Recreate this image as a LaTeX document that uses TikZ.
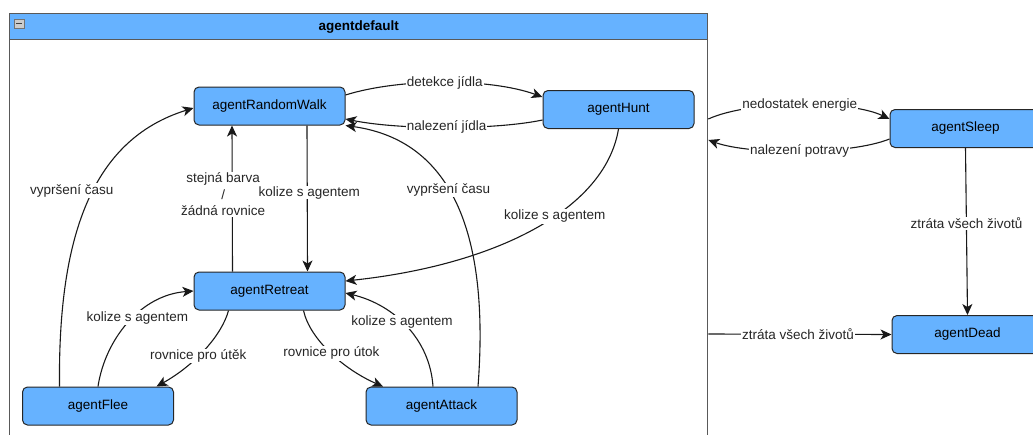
\documentclass[tikz,border=0pt]{standalone}
\usepackage{fontspec}
\setmainfont{Liberation Sans}
\usetikzlibrary{arrows.meta, positioning}
\definecolor{stateblue}{RGB}{102,178,255}

\begin{document}
\begin{tikzpicture}[x=1pt, y=-1pt, >={Stealth[length=11pt, width=10pt, inset=3pt]},
    font=\fontsize{13.5}{16.5}\selectfont,
    state/.style={draw=black!85, line width=1pt, fill=stateblue, rounded corners=5pt, minimum width=151pt, minimum height=38pt, inner sep=0pt},
    lbl/.style={fill=white, inner sep=1pt, text=black!85},
    edge/.style={->, line width=1.1pt, black!90}]

\useasboundingbox (0,0) rectangle (1033,434);
\clip (0,0) rectangle (1033,434);

% container
\node[draw=black!65, line width=1.3pt, minimum width=698pt, minimum height=460pt, anchor=north west, inner sep=0pt] (default) at (9,13) {};
\node[draw=black!65, line width=1.3pt, fill=stateblue, minimum width=698pt, minimum height=26pt, anchor=north west, inner sep=0pt, font=\fontsize{13.5}{16}\selectfont\bfseries] (default-title) at (default.north west) {agentdefault};
\node[draw=black!55, fill=black!20, minimum width=10pt, minimum height=9pt, inner sep=0pt, right=5pt of default-title.west, yshift=3pt] (default-min) {};
\draw[line width=1.5pt, black!75] ([xshift=2pt]default-min.west) -- ([xshift=-2pt]default-min.east);

% states
\node[state] (random-walk) at (269.5,106) {agentRandomWalk};
\node[state, right=197pt of random-walk, yshift=-3.5pt] (hunt) {agentHunt};
\node[state, below=146pt of random-walk] (retreat) {agentRetreat};
\node[state, below left=76pt and 19.5pt of retreat] (flee) {agentFlee};
\node[state, below right=76pt and 20pt of retreat] (attack) {agentAttack};

\node[state] (sleep) at (965.5,128.5) {agentSleep};
\node[state, below=167pt of sleep, xshift=2pt] (dead) {agentDead};

% transitions inside
\draw[edge] ([yshift=11pt]random-walk.east) .. controls (400,78) and (490,78) .. ([yshift=12.5pt]hunt.west) node[lbl, pos=0.5] {detekce jídla};
\draw[edge] ([yshift=-10.5pt]hunt.west) .. controls (495,130) and (400,130) .. ([yshift=-13pt]random-walk.east) node[lbl, pos=0.5] {nalezení jídla};

\draw[edge] ([xshift=-37pt]retreat.north) -- ([xshift=-37.5pt]random-walk.south) node[lbl, pos=0.53, xshift=-9pt, align=center] {stejná barva\\/\\žádná rovnice};
\draw[edge] ([xshift=37.5pt]random-walk.south) -- ([xshift=38pt]retreat.north) node[lbl, inner ysep=0pt, pos=0.46, xshift=2pt] {kolize s agentem};

\draw[edge] (hunt.south) .. controls (605,210) and (495,265) .. ([yshift=10pt]retreat.east) node[lbl, pos=0.42] {kolize s agentem};

\draw[edge] ([xshift=-38.5pt]flee.north) .. controls (58,240) and (90,140) .. ([yshift=-2pt]random-walk.west) node[lbl, pos=0.55, xshift=-22pt] {vypršení času};
\draw[edge] ([xshift=36.5pt]attack.north) .. controls (490,230) and (450,140) .. (random-walk.south east) node[lbl, pos=0.55] {vypršení času};

\draw[edge] (flee.north) .. controls (105,340) and (140,295) .. (retreat.west) node[lbl, pos=0.55, xshift=4pt] {kolize s agentem};
\draw[edge] ([xshift=-41pt]retreat.south) .. controls (222,335) and (195,365) .. ([xshift=58.5pt]flee.north) node[lbl, pos=0.58] {rovnice pro útěk};
\draw[edge] ([xshift=34pt]retreat.south) .. controls (310,340) and (345,370) .. ([xshift=-58.5pt]attack.north) node[lbl, pos=0.5] {rovnice pro útok};
\draw[edge] ([xshift=-8.5pt]attack.north) .. controls (430,340) and (395,305) .. ([yshift=-2pt]retreat.east) node[lbl, pos=0.55] {kolize s agentem};

% transitions outside
\draw[edge] ([yshift=-106pt]default.north east) .. controls (750,100) and (850,100) .. ([yshift=9.5pt]sleep.west) node[lbl, pos=0.5] {nedostatek energie};
\draw[edge] ([yshift=-10.5pt]sleep.west) .. controls (850,155) and (750,155) .. ([yshift=-127pt]default.north east) node[lbl, pos=0.5] {nalezení potravy};
\draw[edge] (sleep.south) -- (dead.north) node[lbl, pos=0.45] {ztráta všech životů};
\draw[edge] ([yshift=-321pt]default.north east) -- (dead.west) node[lbl, pos=0.49] {ztráta všech životů};

\end{tikzpicture}
\end{document}
